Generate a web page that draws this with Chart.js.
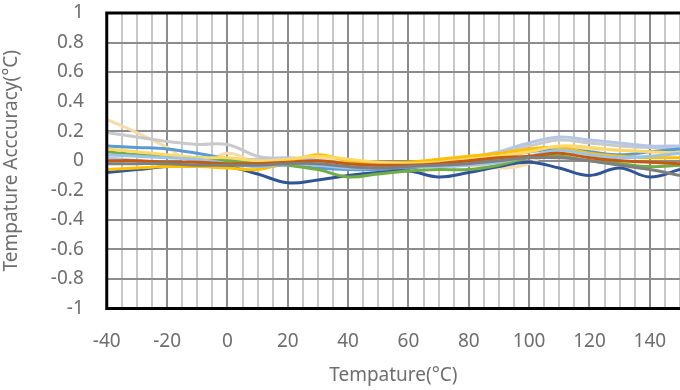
<!DOCTYPE html>
<html>
<head>
<meta charset="utf-8">
<script src="https://cdn.jsdelivr.net/npm/chart.js@4"></script>
<style>
  html, body { margin: 0; padding: 0; background: #fff; }
  #wrap { width: 680px; height: 390px; }
</style>
</head>
<body>
<div id="wrap"><canvas id="accuracyChart"></canvas></div>
<script>
const temps = [-40, -30, -20, -10, 0, 10, 20, 30, 40, 50, 60, 70, 80, 90, 100, 110, 120, 130, 140, 150];

const beige     = [0.28, 0.19, 0.09, -0.03, 0.05, -0.01, 0.01, 0.02, 0.00, -0.02, -0.03, -0.03, -0.03, -0.05, -0.02, 0.09, 0.08, 0.07, 0.06, 0.06];
const lightGray = [0.19, 0.16, 0.13, 0.11, 0.11, 0.03, 0.01, 0.00, -0.02, -0.02, -0.02, -0.01, 0.02, 0.06, 0.10, 0.14, 0.12, 0.10, 0.09, 0.09];
const lavender  = [0.02, 0.00, -0.02, 0.00, 0.00, 0.01, 0.02, 0.00, -0.04, -0.04, -0.03, -0.02, 0.00, 0.06, 0.12, 0.16, 0.14, 0.12, 0.10, 0.10];
const blue      = [0.10, 0.09, 0.08, 0.05, 0.01, -0.04, -0.03, -0.05, -0.06, -0.06, -0.05, -0.03, -0.02, 0.02, 0.06, 0.08, 0.06, 0.04, 0.06, 0.08];
const darkBlue  = [-0.08, -0.06, -0.04, -0.03, -0.04, -0.09, -0.15, -0.13, -0.10, -0.08, -0.07, -0.11, -0.08, -0.04, -0.01, -0.05, -0.10, -0.05, -0.11, -0.06];
const green     = [0.06, 0.04, 0.03, 0.02, 0.00, -0.01, -0.03, -0.06, -0.11, -0.09, -0.07, -0.06, -0.06, -0.03, 0.02, 0.03, 0.00, -0.02, -0.04, -0.03];
const gold      = [-0.06, -0.05, -0.04, -0.04, -0.05, -0.06, -0.01, 0.04, 0.00, -0.01, -0.01, 0.01, 0.03, 0.05, 0.08, 0.09, 0.05, 0.03, 0.02, 0.02];
const orange    = [0.00, 0.00, -0.01, -0.01, -0.02, -0.02, -0.01, 0.00, -0.02, -0.03, -0.03, -0.02, 0.00, 0.02, 0.03, 0.05, 0.02, 0.00, -0.01, -0.02];
const darkGray  = [-0.02, -0.02, -0.02, -0.03, -0.03, -0.03, -0.02, -0.02, -0.04, -0.05, -0.04, -0.03, -0.02, 0.00, 0.02, 0.02, 0.00, -0.03, -0.06, -0.10];
const cream     = [0.08, 0.06, 0.04, 0.02, 0.02, 0.00, 0.01, 0.03, 0.01, -0.01, -0.02, -0.01, 0.01, 0.03, 0.06, 0.10, 0.09, 0.07, 0.06, 0.05];
const lightBlue = [0.04, 0.03, 0.02, 0.01, -0.02, -0.04, -0.02, -0.03, -0.05, -0.05, -0.04, -0.04, -0.03, -0.01, 0.03, 0.07, 0.04, 0.02, 0.03, 0.05];

const seriesList = [
  { data: darkGray,  color: "#7f7f7f" },
  { data: orange,    color: "#c55a11" },
  { data: lightBlue, color: "#9dc3e6" },
  { data: cream,     color: "#ffd966" },
  { data: green,     color: "#70ad47" },
  { data: gold,      color: "#ffc000" },
  { data: darkBlue,  color: "#2f5597" },
  { data: blue,      color: "#5b9bd5" },
  { data: lavender,  color: "#b4c7e7" },
  { data: lightGray, color: "#c9c9c9" },
  { data: beige,     color: "#f5dca8" }
];

const frame = {
  id: "frame",
  afterDraw(chart) {
    const a = chart.chartArea;
    const c = chart.ctx;
    c.save();
    c.strokeStyle = "#000";
    c.lineWidth = 3;
    c.beginPath();
    c.moveTo(a.right + 2, a.top);
    c.lineTo(a.left, a.top);
    c.lineTo(a.left, a.bottom);
    c.lineTo(a.right + 2, a.bottom);
    c.stroke();
    c.restore();
  }
};

document.addEventListener("DOMContentLoaded", function() {
  const ctx = document.getElementById("accuracyChart").getContext("2d");
  new Chart(ctx, {
    type: "line",
    data: {
      datasets: seriesList.map(s => ({
        data: temps.map((t, i) => ({ x: t, y: s.data[i] })),
        borderColor: s.color,
        borderWidth: 3,
        pointRadius: 0,
        tension: 0.4,
        fill: false
      }))
    },
    options: {
      responsive: true,
      maintainAspectRatio: false,
      animation: false,
      layout: { padding: { top: 0, right: 0, left: 0, bottom: 3 } },
      plugins: { legend: { display: false }, tooltip: { enabled: false } },
      scales: {
        x: {
          type: "linear",
          min: -40,
          max: 150,
          border: { display: false },
          afterFit: s => { s.paddingLeft = 0; s.paddingRight = 0; },
          grid: {
            drawTicks: false,
            color: c => (c.tick && c.tick.value % 20 === 0) ? "#8c8c8c" : "#c8c8c8",
            lineWidth: 2
          },
          ticks: {
            stepSize: 5,
            autoSkip: false,
            maxRotation: 0,
            padding: 22,
            color: "#6e6e6e",
            font: { family: "Noto Sans", size: 19 },
            callback: v => (v % 20 === 0 ? String(v) : "")
          },
          title: {
            display: true,
            text: "Tempature(°C)",
            color: "#6e6e6e",
            font: { family: "Noto Sans", size: 19 },
            padding: { top: -11, bottom: 0 }
          }
        },
        y: {
          min: -1,
          max: 1,
          border: { display: false },
          afterFit: s => { s.paddingTop = 13; s.paddingBottom = 0; },
          grid: { drawTicks: false, color: "#8c8c8c", lineWidth: 2 },
          ticks: {
            stepSize: 0.2,
            padding: 23,
            color: "#6e6e6e",
            font: { family: "Noto Sans", size: 19 },
            callback: v => String(Math.round(v * 10) / 10)
          },
          title: {
            display: true,
            text: "Tempature Acccuracy(°C)",
            color: "#6e6e6e",
            font: { family: "Noto Sans", size: 19 },
            padding: { top: 0, bottom: 5 }
          }
        }
      }
    },
    plugins: [frame]
  });
});
</script>
</body>
</html>
